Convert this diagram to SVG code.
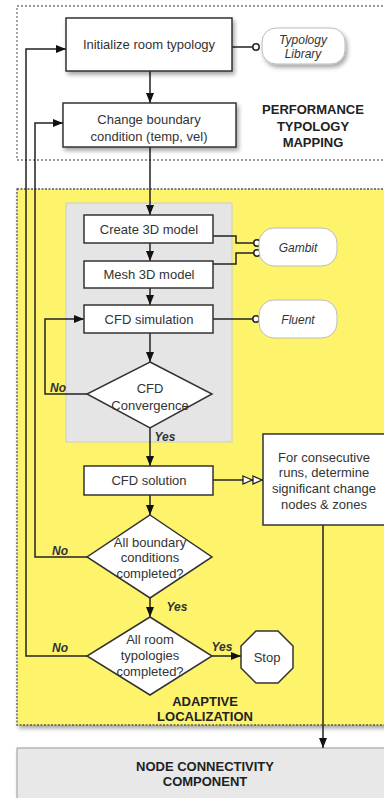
<svg xmlns="http://www.w3.org/2000/svg" width="384" height="798" viewBox="0 0 384 798">
<defs>
<filter id="sh" x="-20%" y="-20%" width="150%" height="150%"><feDropShadow dx="2" dy="3" stdDeviation="2" flood-color="#000" flood-opacity="0.35"/></filter>
<marker id="ar" markerWidth="10" markerHeight="8" refX="10" refY="4" orient="auto" markerUnits="userSpaceOnUse"><path d="M0,0 L10,4 L0,8 Z" fill="#111"/></marker>
<marker id="dar" markerWidth="22" markerHeight="10" refX="21" refY="5" orient="auto" markerUnits="userSpaceOnUse"><path d="M1,1 L10,5 L1,9 Z M11,1 L20,5 L11,9 Z" fill="#fff" stroke="#222" stroke-width="1.3"/></marker>
</defs>
<style>
.t{font-family:"Liberation Sans",Arial,sans-serif;font-size:13px;fill:#333;text-anchor:middle}
.it{font-family:"Liberation Sans",Arial,sans-serif;font-size:12px;font-style:italic;fill:#333;text-anchor:middle}
.b{font-family:"Liberation Sans",Arial,sans-serif;font-size:13px;font-weight:bold;fill:#222;text-anchor:middle}
.lb{font-family:"Liberation Sans",Arial,sans-serif;font-size:12px;font-weight:bold;font-style:italic;fill:#333;text-anchor:middle}
.box{fill:#fff;stroke:#333;stroke-width:1.5}
.pill{fill:#fff;stroke:#bbb;stroke-width:1}
.c{fill:none;stroke:#222;stroke-width:1.5}
.o{fill:#fff;stroke:#222;stroke-width:1.5}
</style>
<g id="regions">
<rect x="17" y="6" width="380" height="154" fill="#fff" stroke="#777" stroke-width="1.3" stroke-dasharray="2,2"/>
<rect x="17" y="189" width="380" height="536" fill="#fdf46c" stroke="#555" stroke-width="1.3" stroke-dasharray="2,1.5" filter="url(#sh)"/>
<rect x="66" y="203" width="166" height="239" fill="#e5e5e5" stroke="#ccc"/>
<rect x="17" y="748" width="380" height="60" fill="#e8e8e8" stroke="#999" filter="url(#sh)"/>
</g>
<g id="connectors">
<path class="c" d="M150,71 V103" marker-end="url(#ar)"/>
<path class="c" d="M232,47 H253"/>
<path class="c" d="M150,147 V215" marker-end="url(#ar)"/>
<path class="c" d="M150,243 V261" marker-end="url(#ar)"/>
<path class="c" d="M150,288 V305" marker-end="url(#ar)"/>
<path class="c" d="M150,333 V362" marker-end="url(#ar)"/>
<path class="c" d="M87,394 H45 V319 H84" marker-end="url(#ar)"/>
<path class="c" d="M150,428 V466" marker-end="url(#ar)"/>
<path class="c" d="M150,495 V515" marker-end="url(#ar)"/>
<path class="c" d="M87,557 H35 V123 H63" marker-end="url(#ar)"/>
<path class="c" d="M150,598 V617" marker-end="url(#ar)"/>
<path class="c" d="M87,656 H26 V49 H66" marker-end="url(#ar)"/>
<path class="c" d="M212,656 H241" marker-end="url(#ar)"/>
<path class="c" d="M213,480 H263" marker-end="url(#dar)"/>
<path class="c" d="M323,525 V748" marker-end="url(#ar)"/>
<path class="c" d="M213,236 H236 V243 H254"/>
<path class="c" d="M213,264 H236 V253 H254"/>
<path class="c" d="M213,319 H253"/>
<circle class="o" cx="256" cy="47" r="3.2"/>
<circle class="o" cx="257" cy="243" r="3.2"/>
<circle class="o" cx="257" cy="253" r="3.2"/>
<circle class="o" cx="256" cy="319" r="3.2"/>
<text class="lb" x="58" y="392">No</text>
<text class="lb" x="165" y="441">Yes</text>
<text class="lb" x="60" y="555">No</text>
<text class="lb" x="177" y="611">Yes</text>
<text class="lb" x="60" y="652">No</text>
<text class="lb" x="222" y="651">Yes</text>
</g>
<g id="init"><rect class="box" x="66" y="18" width="166" height="53" filter="url(#sh)"/><text class="t" x="149" y="49">Initialize room typology</text></g>
<g id="typology-library"><rect class="pill" x="262" y="28" width="83" height="36" rx="14" filter="url(#sh)"/><text class="it" x="303" y="44">Typology</text><text class="it" x="303" y="58">Library</text></g>
<g id="change-boundary"><rect class="box" x="63" y="103" width="173" height="44" filter="url(#sh)"/><text class="t" x="149" y="124">Change boundary</text><text class="t" x="149" y="141">condition (temp, vel)</text></g>
<g id="ptm-label"><text class="b" x="313" y="114">PERFORMANCE</text><text class="b" x="313" y="131">TYPOLOGY</text><text class="b" x="313" y="147">MAPPING</text></g>
<g id="create"><rect class="box" x="84" y="215" width="129" height="28"/><text class="t" x="149" y="234">Create 3D model</text></g>
<g id="mesh"><rect class="box" x="84" y="261" width="129" height="27"/><text class="t" x="149" y="279">Mesh 3D model</text></g>
<g id="cfd-sim"><rect class="box" x="84" y="305" width="129" height="28"/><text class="t" x="149" y="324">CFD simulation</text></g>
<g id="gambit"><rect class="pill" x="259" y="228" width="78" height="38" rx="15"/><text class="it" x="298" y="252">Gambit</text></g>
<g id="fluent"><rect class="pill" x="259" y="300" width="78" height="38" rx="15"/><text class="it" x="298" y="324">Fluent</text></g>
<g id="cfd-conv"><polygon class="box" points="150,362 212,394 150,428 87,394"/><text class="t" x="150" y="393">CFD</text><text class="t" x="150" y="410">Convergence</text></g>
<g id="cfd-sol"><rect class="box" x="84" y="466" width="129" height="29"/><text class="t" x="149" y="485">CFD solution</text></g>
<g id="consecutive"><rect class="box" x="263" y="434" width="125" height="91"/><text class="t" x="324" y="462">For consecutive</text><text class="t" x="324" y="477">runs, determine</text><text class="t" x="324" y="493">significant change</text><text class="t" x="324" y="509">nodes &amp; zones</text></g>
<g id="bc-done"><polygon class="box" points="150,515 212,557 150,598 87,557"/><text class="t" x="150" y="547">All boundary</text><text class="t" x="150" y="562">conditions</text><text class="t" x="150" y="578">completed?</text></g>
<g id="rt-done"><polygon class="box" points="150,617 212,656 150,695 87,656"/><text class="t" x="150" y="644">All room</text><text class="t" x="150" y="660">typologies</text><text class="t" x="150" y="676">completed?</text></g>
<g id="stop"><polygon class="box" points="256,631 278,631 293,646 293,668 278,683 256,683 241,668 241,646"/><text class="t" x="267" y="662">Stop</text></g>
<g id="al-label"><text class="b" x="205" y="706">ADAPTIVE</text><text class="b" x="205" y="721">LOCALIZATION</text></g>
<g id="ncc"><text class="b" x="205" y="771">NODE CONNECTIVITY</text><text class="b" x="205" y="786">COMPONENT</text></g>
</svg>
